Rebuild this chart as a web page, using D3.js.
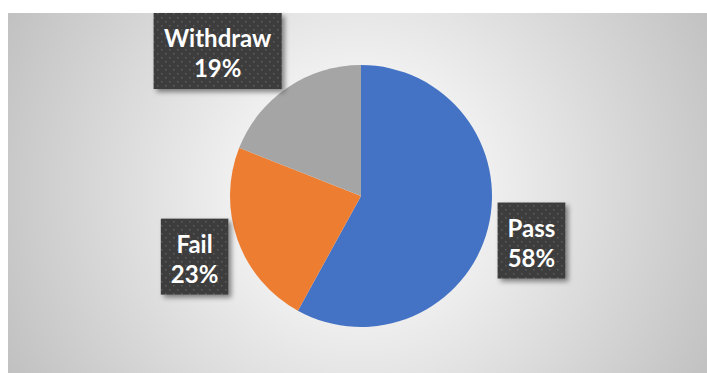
<!DOCTYPE html>
<html>
<head>
<meta charset="utf-8">
<script src="https://cdn.jsdelivr.net/npm/d3@7"></script>
<style>
  body { margin: 0; background: #fff; }
  svg { display: block; }
</style>
</head>
<body>
<script>
// chart data
const categories = ["Pass", "Fail", "Withdraw"];
const values = [58, 23, 19];
const colors = ["#4472C4", "#ED7D31", "#A5A5A5"];

const W = 707, H = 373;
const svg = d3.select("body")
    .append("svg")
    .attr("width", W)
    .attr("height", H);

const defs = svg.append("defs");

// background gradient, white in the middle, grey at the edges
const bg = defs.append("radialGradient")
    .attr("id", "bg")
    .attr("gradientUnits", "userSpaceOnUse")
    .attr("cx", 360).attr("cy", 190).attr("r", 400);
bg.append("stop").attr("offset", 0).attr("stop-color", "#ffffff");
bg.append("stop").attr("offset", 0.15).attr("stop-color", "#fbfbfb");
bg.append("stop").attr("offset", 1).attr("stop-color", "#c0c0c0");

// dotted dark fill for the label boxes
const pat = defs.append("pattern")
    .attr("id", "dots")
    .attr("patternUnits", "userSpaceOnUse")
    .attr("width", 8).attr("height", 8);
pat.append("rect").attr("width", 8).attr("height", 8).attr("fill", "#3d3d3d");
pat.append("rect").attr("x", 1).attr("y", 1).attr("width", 1.5).attr("height", 1.5).attr("fill", "#5c5c5c");
pat.append("rect").attr("x", 5).attr("y", 5).attr("width", 1.5).attr("height", 1.5).attr("fill", "#5c5c5c");

const shadow = defs.append("filter")
    .attr("id", "shadow")
    .attr("x", "-20%").attr("y", "-20%")
    .attr("width", "150%").attr("height", "150%");
shadow.append("feDropShadow")
    .attr("dx", 3).attr("dy", 3)
    .attr("stdDeviation", 2.5)
    .attr("flood-color", "#000")
    .attr("flood-opacity", 0.45);

svg.append("rect")
    .attr("x", 8).attr("y", 13)
    .attr("width", W - 8).attr("height", H - 13)
    .attr("fill", "url(#bg)");

const cx = 361, cy = 196, r = 131;

const pie = d3.pie().sort(null).value(d => d);
const arcs = pie(values);
const arc = d3.arc().innerRadius(0).outerRadius(r);

const g = svg.append("g").attr("transform", `translate(${cx},${cy})`);

g.selectAll("path")
    .data(arcs)
    .enter()
    .append("path")
    .attr("d", arc)
    .attr("fill", (d, i) => colors[i]);

// labels, outside end
const fontSize = 24, lineH = 30, padX = 10, boxH = 76;
const labels = svg.append("g");

arcs.forEach((d, i) => {
    const a = (d.startAngle + d.endAngle) / 2;
    const ax = cx + Math.sin(a) * (r + 10);
    const ay = cy - Math.cos(a) * (r + 10);

    const lg = labels.append("g");
    const rect = lg.append("rect").attr("fill", "url(#dots)").attr("filter", "url(#shadow)");
    const t = lg.append("text")
        .attr("text-anchor", "middle")
        .attr("font-family", "Lato, 'Open Sans', sans-serif")
        .attr("font-weight", "bold")
        .attr("font-size", fontSize)
        .attr("fill", "#fff");
    t.append("tspan").attr("x", 0).attr("dy", 0).text(categories[i]);
    t.append("tspan").attr("x", 0).attr("dy", lineH).text(d3.format(".0%")(values[i] / d3.sum(values)));

    const tw = t.node().getBBox().width;
    const bw = tw + padX * 2;
    let bx = ax + Math.sign(Math.sin(a)) * bw / 2;
    let by = ay - Math.cos(a) * boxH / 2;
    by = Math.max(by, 13 + boxH / 2);

    rect.attr("x", bx - bw / 2).attr("y", by - boxH / 2)
        .attr("width", bw).attr("height", boxH);
    t.attr("transform", `translate(${bx},${by - 4})`);
});
</script>
</body>
</html>
